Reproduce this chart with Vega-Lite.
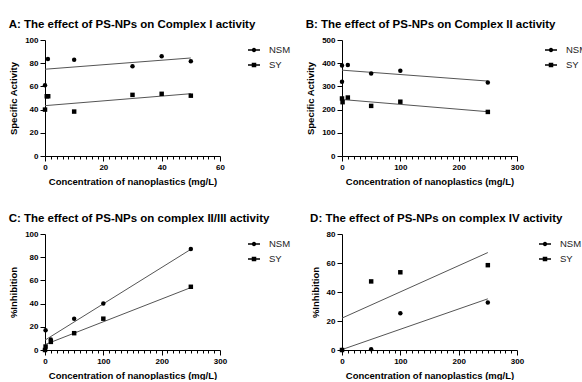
{
  "$schema": "https://vega.github.io/schema/vega-lite/v6.json",
  "padding": {"left": 8, "top": 18, "right": 0, "bottom": 0},
  "config": {
    "font": "Liberation Sans",
    "view": {"stroke": null},
    "axis": {"domainColor": "black", "tickColor": "black", "labelColor": "black", "titleColor": "black", "labelFontSize": 8, "labelFontWeight": "bold", "titleFontSize": 9.5, "titleFontWeight": "bold", "grid": false, "domainWidth": 1, "tickWidth": 1, "labelPadding": 2, "labelOverlap": false, "labelFlush": false, "tickCount": 100, "format": "d"},
    "legend": {"title": null, "orient": "right", "offset": 24, "padding": 3, "symbolSize": 144, "labelFontSize": 9.5, "labelColor": "#222", "labelOffset": 8, "rowPadding": 3, "symbolOpacity": 1, "symbolStrokeColor": "black", "symbolStrokeWidth": 1.5}
  },
  "datasets": {
    "pts": [
      {"panel": "A", "series": "NSM", "x": 0, "y": 61},
      {"panel": "A", "series": "NSM", "x": 1, "y": 83.7},
      {"panel": "A", "series": "NSM", "x": 10, "y": 83},
      {"panel": "A", "series": "NSM", "x": 30, "y": 77.4},
      {"panel": "A", "series": "NSM", "x": 40, "y": 86},
      {"panel": "A", "series": "NSM", "x": 50, "y": 81.7},
      {"panel": "A", "series": "SY", "x": 0, "y": 40},
      {"panel": "A", "series": "SY", "x": 0.6, "y": 51.5},
      {"panel": "A", "series": "SY", "x": 1.1, "y": 51.5},
      {"panel": "A", "series": "SY", "x": 10, "y": 38.3},
      {"panel": "A", "series": "SY", "x": 30, "y": 52.7},
      {"panel": "A", "series": "SY", "x": 40, "y": 53.6},
      {"panel": "A", "series": "SY", "x": 50, "y": 52},
      {"panel": "B", "series": "NSM", "x": 0, "y": 390},
      {"panel": "B", "series": "NSM", "x": 0, "y": 320},
      {"panel": "B", "series": "NSM", "x": 10, "y": 392},
      {"panel": "B", "series": "NSM", "x": 50, "y": 356},
      {"panel": "B", "series": "NSM", "x": 100, "y": 367},
      {"panel": "B", "series": "NSM", "x": 250, "y": 317},
      {"panel": "B", "series": "SY", "x": 0, "y": 248},
      {"panel": "B", "series": "SY", "x": 1, "y": 232},
      {"panel": "B", "series": "SY", "x": 10, "y": 252},
      {"panel": "B", "series": "SY", "x": 50, "y": 216},
      {"panel": "B", "series": "SY", "x": 100, "y": 234},
      {"panel": "B", "series": "SY", "x": 250, "y": 190},
      {"panel": "C", "series": "NSM", "x": 0, "y": 0},
      {"panel": "C", "series": "NSM", "x": 1, "y": 17},
      {"panel": "C", "series": "NSM", "x": 10, "y": 9},
      {"panel": "C", "series": "NSM", "x": 50, "y": 27},
      {"panel": "C", "series": "NSM", "x": 100, "y": 40},
      {"panel": "C", "series": "NSM", "x": 250, "y": 87},
      {"panel": "C", "series": "SY", "x": 0, "y": 0},
      {"panel": "C", "series": "SY", "x": 1, "y": 3},
      {"panel": "C", "series": "SY", "x": 10, "y": 7},
      {"panel": "C", "series": "SY", "x": 50, "y": 14.5},
      {"panel": "C", "series": "SY", "x": 100, "y": 27},
      {"panel": "C", "series": "SY", "x": 250, "y": 54.5},
      {"panel": "D", "series": "NSM", "x": 0, "y": 0},
      {"panel": "D", "series": "NSM", "x": 50, "y": 0.5},
      {"panel": "D", "series": "NSM", "x": 100, "y": 25.3},
      {"panel": "D", "series": "NSM", "x": 250, "y": 32.7},
      {"panel": "D", "series": "SY", "x": 0, "y": 0},
      {"panel": "D", "series": "SY", "x": 50, "y": 47.3},
      {"panel": "D", "series": "SY", "x": 100, "y": 53.6},
      {"panel": "D", "series": "SY", "x": 250, "y": 58.5}
    ],
    "fit": [
      {"panel": "A", "series": "NSM", "x": 0, "y": 74.8},
      {"panel": "A", "series": "NSM", "x": 50, "y": 84.5},
      {"panel": "A", "series": "SY", "x": 0, "y": 43.4},
      {"panel": "A", "series": "SY", "x": 50, "y": 53.7},
      {"panel": "B", "series": "NSM", "x": 0, "y": 370},
      {"panel": "B", "series": "NSM", "x": 250, "y": 323},
      {"panel": "B", "series": "SY", "x": 0, "y": 243.5},
      {"panel": "B", "series": "SY", "x": 250, "y": 191},
      {"panel": "C", "series": "NSM", "x": 0, "y": 8.5},
      {"panel": "C", "series": "NSM", "x": 250, "y": 86.8},
      {"panel": "C", "series": "SY", "x": 0, "y": 4.7},
      {"panel": "C", "series": "SY", "x": 250, "y": 53.8},
      {"panel": "D", "series": "NSM", "x": 0, "y": 0.3},
      {"panel": "D", "series": "NSM", "x": 250, "y": 35.3},
      {"panel": "D", "series": "SY", "x": 0, "y": 22},
      {"panel": "D", "series": "SY", "x": 250, "y": 67.2}
    ]
  },
  "columns": 2,
  "spacing": {"row": 26, "column": 11},
  "resolve": {"scale": {"shape": "independent"}, "legend": {"shape": "independent"}},
  "concat": [
    {
      "title": {"text": "A: The effect of PS-NPs on Complex I activity", "fontSize": 11.5, "fontWeight": "bold", "anchor": "start", "color": "black", "offset": 6},
      "width": 175, "height": 116,
      "resolve": {"scale": {"shape": "independent"}, "legend": {"shape": "independent"}},
      "layer": [
        {
          "data": {"name": "fit"},
          "transform": [{"filter": "datum.panel === 'A'"}],
          "mark": {"type": "line", "color": "#555", "strokeWidth": 1},
          "encoding": {
            "x": {"field": "x", "type": "quantitative", "scale": {"domain": [0, 60], "nice": false}, "axis": {"values": [0,2,4,6,8,10,12,14,16,18,20,22,24,26,28,30,32,34,36,38,40,42,44,46,48,50,52,54,56,58,60], "tickCount": 100, "format": "d", "labelExpr": "datum.value % 20 === 0 ? datum.label : ''", "tickSize": {"condition": {"test": "datum.value % 20 === 0", "value": 5}, "value": 3}, "title": "Concentration of nanoplastics (mg/L)", "titlePadding": 5, "labelOverlap": false}},
            "y": {"field": "y", "type": "quantitative", "scale": {"domain": [0, 100], "nice": false}, "axis": {"values": [0, 20, 40, 60, 80, 100], "tickCount": 100, "format": "d", "tickSize": 5, "title": "Specific Activity", "titlePadding": 6, "labelOverlap": false}},
            "detail": {"field": "series"}
          }
        },
        {
          "data": {"name": "pts"},
          "transform": [{"filter": "datum.panel === 'A'"}],
          "mark": {"type": "point", "filled": true, "opacity": 1, "size": 20, "color": "black", "clip": false},
          "encoding": {
            "x": {"field": "x", "type": "quantitative"},
            "y": {"field": "y", "type": "quantitative"},
            "shape": {"field": "series", "type": "nominal", "scale": {"domain": ["NSM", "SY"], "range": ["circle", "square"]}, "legend": null}
          }
        },
        {
          "data": {"name": "pts"},
          "transform": [{"filter": "datum.panel === 'A'"}],
          "mark": {"type": "point", "filled": false, "opacity": 0, "size": 144, "color": "black", "strokeWidth": 1.5, "clip": false},
          "encoding": {
            "x": {"field": "x", "type": "quantitative"},
            "y": {"field": "y", "type": "quantitative"},
            "shape": {"field": "series", "type": "nominal", "scale": {"domain": ["NSM", "SY"], "range": ["M-1,0H1M-0.25,0A0.25,0.25,0,1,1,0.25,0A0.25,0.25,0,1,1,-0.25,0ZM-0.1,0A0.1,0.1,0,1,1,0.1,0A0.1,0.1,0,1,1,-0.1,0Z", "M-1,0H1M-0.25,-0.25H0.25V0.25H-0.25ZM-0.1,-0.1H0.1V0.1H-0.1Z"]}}
          }
        }
      ]
    },
    {
      "title": {"text": "B: The effect of PS-NPs on Complex II activity", "fontSize": 11.5, "fontWeight": "bold", "anchor": "start", "color": "black", "offset": 6},
      "width": 175, "height": 116,
      "resolve": {"scale": {"shape": "independent"}, "legend": {"shape": "independent"}},
      "layer": [
        {
          "data": {"name": "fit"},
          "transform": [{"filter": "datum.panel === 'B'"}],
          "mark": {"type": "line", "color": "#555", "strokeWidth": 1},
          "encoding": {
            "x": {"field": "x", "type": "quantitative", "scale": {"domain": [0, 300], "nice": false}, "axis": {"values": [0,10,20,30,40,50,60,70,80,90,100,110,120,130,140,150,160,170,180,190,200,210,220,230,240,250,260,270,280,290,300], "tickCount": 100, "format": "d", "labelExpr": "datum.value % 100 === 0 ? datum.label : ''", "tickSize": {"condition": {"test": "datum.value % 100 === 0", "value": 5}, "value": 3}, "title": "Concentration of nanoplastics (mg/L)", "titlePadding": 5, "labelOverlap": false}},
            "y": {"field": "y", "type": "quantitative", "scale": {"domain": [0, 500], "nice": false}, "axis": {"values": [0, 100, 200, 300, 400, 500], "tickCount": 100, "format": "d", "tickSize": 5, "title": "Specific Activity", "titlePadding": 6, "labelOverlap": false}},
            "detail": {"field": "series"}
          }
        },
        {
          "data": {"name": "pts"},
          "transform": [{"filter": "datum.panel === 'B'"}],
          "mark": {"type": "point", "filled": true, "opacity": 1, "size": 20, "color": "black", "clip": false},
          "encoding": {
            "x": {"field": "x", "type": "quantitative"},
            "y": {"field": "y", "type": "quantitative"},
            "shape": {"field": "series", "type": "nominal", "scale": {"domain": ["NSM", "SY"], "range": ["circle", "square"]}, "legend": null}
          }
        },
        {
          "data": {"name": "pts"},
          "transform": [{"filter": "datum.panel === 'B'"}],
          "mark": {"type": "point", "filled": false, "opacity": 0, "size": 144, "color": "black", "strokeWidth": 1.5, "clip": false},
          "encoding": {
            "x": {"field": "x", "type": "quantitative"},
            "y": {"field": "y", "type": "quantitative"},
            "shape": {"field": "series", "type": "nominal", "scale": {"domain": ["NSM", "SY"], "range": ["M-1,0H1M-0.25,0A0.25,0.25,0,1,1,0.25,0A0.25,0.25,0,1,1,-0.25,0ZM-0.1,0A0.1,0.1,0,1,1,0.1,0A0.1,0.1,0,1,1,-0.1,0Z", "M-1,0H1M-0.25,-0.25H0.25V0.25H-0.25ZM-0.1,-0.1H0.1V0.1H-0.1Z"]}}
          }
        }
      ]
    },
    {
      "title": {"text": "C: The effect of PS-NPs on complex II/III activity", "fontSize": 11.5, "fontWeight": "bold", "anchor": "start", "color": "black", "offset": 6},
      "width": 175, "height": 116,
      "resolve": {"scale": {"shape": "independent"}, "legend": {"shape": "independent"}},
      "layer": [
        {
          "data": {"name": "fit"},
          "transform": [{"filter": "datum.panel === 'C'"}],
          "mark": {"type": "line", "color": "#555", "strokeWidth": 1},
          "encoding": {
            "x": {"field": "x", "type": "quantitative", "scale": {"domain": [0, 300], "nice": false}, "axis": {"values": [0,10,20,30,40,50,60,70,80,90,100,110,120,130,140,150,160,170,180,190,200,210,220,230,240,250,260,270,280,290,300], "tickCount": 100, "format": "d", "labelExpr": "datum.value % 100 === 0 ? datum.label : ''", "tickSize": {"condition": {"test": "datum.value % 100 === 0", "value": 5}, "value": 3}, "title": "Concentration of nanoplastics (mg/L)", "titlePadding": 5, "labelOverlap": false}},
            "y": {"field": "y", "type": "quantitative", "scale": {"domain": [0, 100], "nice": false}, "axis": {"values": [0, 20, 40, 60, 80, 100], "tickCount": 100, "format": "d", "tickSize": 5, "title": "%Inhibition", "titlePadding": 6, "labelOverlap": false}},
            "detail": {"field": "series"}
          }
        },
        {
          "data": {"name": "pts"},
          "transform": [{"filter": "datum.panel === 'C'"}],
          "mark": {"type": "point", "filled": true, "opacity": 1, "size": 20, "color": "black", "clip": false},
          "encoding": {
            "x": {"field": "x", "type": "quantitative"},
            "y": {"field": "y", "type": "quantitative"},
            "shape": {"field": "series", "type": "nominal", "scale": {"domain": ["NSM", "SY"], "range": ["circle", "square"]}, "legend": null}
          }
        },
        {
          "data": {"name": "pts"},
          "transform": [{"filter": "datum.panel === 'C'"}],
          "mark": {"type": "point", "filled": false, "opacity": 0, "size": 144, "color": "black", "strokeWidth": 1.5, "clip": false},
          "encoding": {
            "x": {"field": "x", "type": "quantitative"},
            "y": {"field": "y", "type": "quantitative"},
            "shape": {"field": "series", "type": "nominal", "scale": {"domain": ["NSM", "SY"], "range": ["M-1,0H1M-0.25,0A0.25,0.25,0,1,1,0.25,0A0.25,0.25,0,1,1,-0.25,0ZM-0.1,0A0.1,0.1,0,1,1,0.1,0A0.1,0.1,0,1,1,-0.1,0Z", "M-1,0H1M-0.25,-0.25H0.25V0.25H-0.25ZM-0.1,-0.1H0.1V0.1H-0.1Z"]}}
          }
        }
      ]
    },
    {
      "title": {"text": "D: The effect of PS-NPs on complex IV activity", "fontSize": 11.5, "fontWeight": "bold", "anchor": "start", "color": "black", "offset": 6},
      "width": 175, "height": 116,
      "resolve": {"scale": {"shape": "independent"}, "legend": {"shape": "independent"}},
      "layer": [
        {
          "data": {"name": "fit"},
          "transform": [{"filter": "datum.panel === 'D'"}],
          "mark": {"type": "line", "color": "#555", "strokeWidth": 1},
          "encoding": {
            "x": {"field": "x", "type": "quantitative", "scale": {"domain": [0, 300], "nice": false}, "axis": {"values": [0,10,20,30,40,50,60,70,80,90,100,110,120,130,140,150,160,170,180,190,200,210,220,230,240,250,260,270,280,290,300], "tickCount": 100, "format": "d", "labelExpr": "datum.value % 100 === 0 ? datum.label : ''", "tickSize": {"condition": {"test": "datum.value % 100 === 0", "value": 5}, "value": 3}, "title": "Concentration of nanoplastics (mg/L)", "titlePadding": 5, "labelOverlap": false}},
            "y": {"field": "y", "type": "quantitative", "scale": {"domain": [0, 80], "nice": false}, "axis": {"values": [0, 20, 40, 60, 80], "tickCount": 100, "format": "d", "tickSize": 5, "title": "%Inhibition", "titlePadding": 6, "labelOverlap": false}},
            "detail": {"field": "series"}
          }
        },
        {
          "data": {"name": "pts"},
          "transform": [{"filter": "datum.panel === 'D'"}],
          "mark": {"type": "point", "filled": true, "opacity": 1, "size": 20, "color": "black", "clip": false},
          "encoding": {
            "x": {"field": "x", "type": "quantitative"},
            "y": {"field": "y", "type": "quantitative"},
            "shape": {"field": "series", "type": "nominal", "scale": {"domain": ["NSM", "SY"], "range": ["circle", "square"]}, "legend": null}
          }
        },
        {
          "data": {"name": "pts"},
          "transform": [{"filter": "datum.panel === 'D'"}],
          "mark": {"type": "point", "filled": false, "opacity": 0, "size": 144, "color": "black", "strokeWidth": 1.5, "clip": false},
          "encoding": {
            "x": {"field": "x", "type": "quantitative"},
            "y": {"field": "y", "type": "quantitative"},
            "shape": {"field": "series", "type": "nominal", "scale": {"domain": ["NSM", "SY"], "range": ["M-1,0H1M-0.25,0A0.25,0.25,0,1,1,0.25,0A0.25,0.25,0,1,1,-0.25,0ZM-0.1,0A0.1,0.1,0,1,1,0.1,0A0.1,0.1,0,1,1,-0.1,0Z", "M-1,0H1M-0.25,-0.25H0.25V0.25H-0.25ZM-0.1,-0.1H0.1V0.1H-0.1Z"]}, "legend": {"offset": 18}}
          }
        }
      ]
    }
  ]
}
